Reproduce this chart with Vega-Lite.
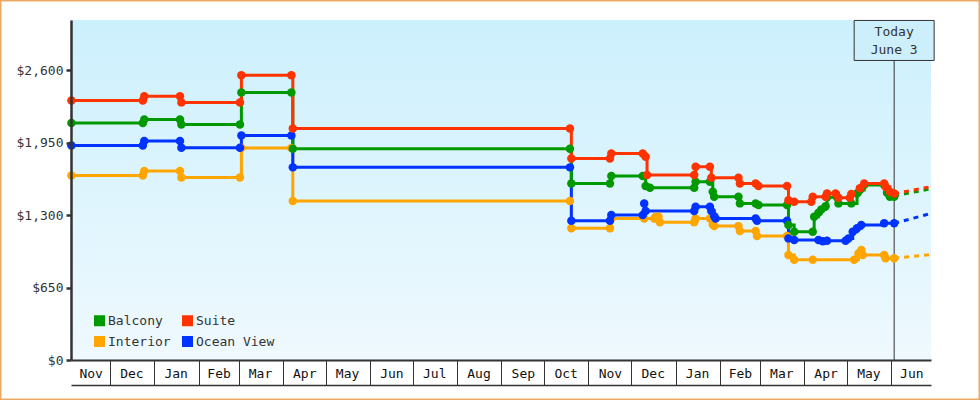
{
  "$schema": "https://vega.github.io/schema/vega-lite/v6.json",
  "width": 980,
  "height": 400,
  "autosize": "none",
  "padding": 0,
  "background": "white",
  "config": {
    "view": {"fill": "white", "stroke": "#eba964", "strokeWidth": 3},
    "font": "DejaVu Sans Mono",
    "axis": {"grid": false, "labelFont": "DejaVu Sans Mono", "labelFontSize": 13, "labelColor": "#333333", "domainColor": "#333333", "tickColor": "#333333"},
    "legend": {"zindex": 2}
  },
  "datasets": {
    "prices": [
      {"s": "Interior", "d": "2021-11-04", "v": 1656},
      {"s": "Interior", "d": "2021-12-24", "v": 1656},
      {"s": "Interior", "d": "2021-12-25", "v": 1695},
      {"s": "Interior", "d": "2022-01-19", "v": 1695},
      {"s": "Interior", "d": "2022-01-20", "v": 1638},
      {"s": "Interior", "d": "2022-03-02", "v": 1638},
      {"s": "Interior", "d": "2022-03-03", "v": 1901},
      {"s": "Interior", "d": "2022-04-07", "v": 1901},
      {"s": "Interior", "d": "2022-04-08", "v": 1426},
      {"s": "Interior", "d": "2022-10-19", "v": 1426},
      {"s": "Interior", "d": "2022-10-20", "v": 1181},
      {"s": "Interior", "d": "2022-11-16", "v": 1181},
      {"s": "Interior", "d": "2022-11-17", "v": 1270},
      {"s": "Interior", "d": "2022-12-10", "v": 1270},
      {"s": "Interior", "d": "2022-12-17", "v": 1270},
      {"s": "Interior", "d": "2022-12-18", "v": 1285},
      {"s": "Interior", "d": "2022-12-20", "v": 1285},
      {"s": "Interior", "d": "2022-12-21", "v": 1235},
      {"s": "Interior", "d": "2023-01-14", "v": 1235},
      {"s": "Interior", "d": "2023-01-15", "v": 1270},
      {"s": "Interior", "d": "2023-01-25", "v": 1270},
      {"s": "Interior", "d": "2023-01-27", "v": 1215},
      {"s": "Interior", "d": "2023-01-28", "v": 1201},
      {"s": "Interior", "d": "2023-02-14", "v": 1201},
      {"s": "Interior", "d": "2023-02-15", "v": 1157},
      {"s": "Interior", "d": "2023-02-26", "v": 1157},
      {"s": "Interior", "d": "2023-02-27", "v": 1112},
      {"s": "Interior", "d": "2023-03-20", "v": 1112},
      {"s": "Interior", "d": "2023-03-21", "v": 941},
      {"s": "Interior", "d": "2023-03-25", "v": 900},
      {"s": "Interior", "d": "2023-04-07", "v": 900},
      {"s": "Interior", "d": "2023-05-06", "v": 900},
      {"s": "Interior", "d": "2023-05-09", "v": 956},
      {"s": "Interior", "d": "2023-05-11", "v": 986},
      {"s": "Interior", "d": "2023-05-12", "v": 941},
      {"s": "Interior", "d": "2023-05-27", "v": 941},
      {"s": "Interior", "d": "2023-05-28", "v": 912},
      {"s": "Interior", "d": "2023-06-03", "v": 912},
      {"s": "Ocean View", "d": "2021-11-04", "v": 1925},
      {"s": "Ocean View", "d": "2021-12-24", "v": 1925},
      {"s": "Ocean View", "d": "2021-12-25", "v": 1964},
      {"s": "Ocean View", "d": "2022-01-19", "v": 1964},
      {"s": "Ocean View", "d": "2022-01-20", "v": 1904},
      {"s": "Ocean View", "d": "2022-03-02", "v": 1904},
      {"s": "Ocean View", "d": "2022-03-03", "v": 2015},
      {"s": "Ocean View", "d": "2022-04-07", "v": 2015},
      {"s": "Ocean View", "d": "2022-04-08", "v": 1728},
      {"s": "Ocean View", "d": "2022-10-19", "v": 1728},
      {"s": "Ocean View", "d": "2022-10-20", "v": 1249},
      {"s": "Ocean View", "d": "2022-11-16", "v": 1249},
      {"s": "Ocean View", "d": "2022-11-17", "v": 1300},
      {"s": "Ocean View", "d": "2022-12-09", "v": 1300},
      {"s": "Ocean View", "d": "2022-12-10", "v": 1405},
      {"s": "Ocean View", "d": "2022-12-11", "v": 1336},
      {"s": "Ocean View", "d": "2023-01-14", "v": 1336},
      {"s": "Ocean View", "d": "2023-01-15", "v": 1375},
      {"s": "Ocean View", "d": "2023-01-25", "v": 1375},
      {"s": "Ocean View", "d": "2023-01-26", "v": 1336},
      {"s": "Ocean View", "d": "2023-01-28", "v": 1290},
      {"s": "Ocean View", "d": "2023-01-29", "v": 1270},
      {"s": "Ocean View", "d": "2023-02-26", "v": 1270},
      {"s": "Ocean View", "d": "2023-02-27", "v": 1249},
      {"s": "Ocean View", "d": "2023-03-20", "v": 1249},
      {"s": "Ocean View", "d": "2023-03-21", "v": 1091},
      {"s": "Ocean View", "d": "2023-03-25", "v": 1076},
      {"s": "Ocean View", "d": "2023-04-11", "v": 1076},
      {"s": "Ocean View", "d": "2023-04-14", "v": 1065},
      {"s": "Ocean View", "d": "2023-04-17", "v": 1070},
      {"s": "Ocean View", "d": "2023-04-30", "v": 1070},
      {"s": "Ocean View", "d": "2023-05-02", "v": 1091},
      {"s": "Ocean View", "d": "2023-05-05", "v": 1150},
      {"s": "Ocean View", "d": "2023-05-08", "v": 1181},
      {"s": "Ocean View", "d": "2023-05-11", "v": 1210},
      {"s": "Ocean View", "d": "2023-05-27", "v": 1226},
      {"s": "Ocean View", "d": "2023-06-03", "v": 1226},
      {"s": "Balcony", "d": "2021-11-04", "v": 2125},
      {"s": "Balcony", "d": "2021-12-24", "v": 2125},
      {"s": "Balcony", "d": "2021-12-25", "v": 2158},
      {"s": "Balcony", "d": "2022-01-19", "v": 2158},
      {"s": "Balcony", "d": "2022-01-20", "v": 2113},
      {"s": "Balcony", "d": "2022-03-02", "v": 2113},
      {"s": "Balcony", "d": "2022-03-03", "v": 2400},
      {"s": "Balcony", "d": "2022-04-07", "v": 2400},
      {"s": "Balcony", "d": "2022-04-08", "v": 1895},
      {"s": "Balcony", "d": "2022-10-19", "v": 1895},
      {"s": "Balcony", "d": "2022-10-20", "v": 1584},
      {"s": "Balcony", "d": "2022-11-16", "v": 1584},
      {"s": "Balcony", "d": "2022-11-17", "v": 1650},
      {"s": "Balcony", "d": "2022-12-09", "v": 1650},
      {"s": "Balcony", "d": "2022-12-11", "v": 1560},
      {"s": "Balcony", "d": "2022-12-14", "v": 1545},
      {"s": "Balcony", "d": "2023-01-14", "v": 1545},
      {"s": "Balcony", "d": "2023-01-15", "v": 1599},
      {"s": "Balcony", "d": "2023-01-25", "v": 1599},
      {"s": "Balcony", "d": "2023-01-27", "v": 1509},
      {"s": "Balcony", "d": "2023-01-28", "v": 1464},
      {"s": "Balcony", "d": "2023-02-14", "v": 1464},
      {"s": "Balcony", "d": "2023-02-15", "v": 1405},
      {"s": "Balcony", "d": "2023-02-26", "v": 1405},
      {"s": "Balcony", "d": "2023-02-28", "v": 1390},
      {"s": "Balcony", "d": "2023-03-20", "v": 1390},
      {"s": "Balcony", "d": "2023-03-21", "v": 1210},
      {"s": "Balcony", "d": "2023-03-25", "v": 1150},
      {"s": "Balcony", "d": "2023-04-07", "v": 1150},
      {"s": "Balcony", "d": "2023-04-08", "v": 1285},
      {"s": "Balcony", "d": "2023-04-11", "v": 1320},
      {"s": "Balcony", "d": "2023-04-13", "v": 1350},
      {"s": "Balcony", "d": "2023-04-16", "v": 1380},
      {"s": "Balcony", "d": "2023-04-17", "v": 1460},
      {"s": "Balcony", "d": "2023-04-24", "v": 1460},
      {"s": "Balcony", "d": "2023-04-25", "v": 1405},
      {"s": "Balcony", "d": "2023-05-04", "v": 1405},
      {"s": "Balcony", "d": "2023-05-08", "v": 1494},
      {"s": "Balcony", "d": "2023-05-10", "v": 1525},
      {"s": "Balcony", "d": "2023-05-13", "v": 1569},
      {"s": "Balcony", "d": "2023-05-27", "v": 1569},
      {"s": "Balcony", "d": "2023-05-29", "v": 1500},
      {"s": "Balcony", "d": "2023-05-31", "v": 1464},
      {"s": "Balcony", "d": "2023-06-03", "v": 1464},
      {"s": "Suite", "d": "2021-11-04", "v": 2328},
      {"s": "Suite", "d": "2021-12-24", "v": 2328},
      {"s": "Suite", "d": "2021-12-25", "v": 2367},
      {"s": "Suite", "d": "2022-01-19", "v": 2367},
      {"s": "Suite", "d": "2022-01-20", "v": 2311},
      {"s": "Suite", "d": "2022-03-02", "v": 2311},
      {"s": "Suite", "d": "2022-03-03", "v": 2555},
      {"s": "Suite", "d": "2022-04-07", "v": 2555},
      {"s": "Suite", "d": "2022-04-08", "v": 2077},
      {"s": "Suite", "d": "2022-10-19", "v": 2077},
      {"s": "Suite", "d": "2022-10-20", "v": 1808},
      {"s": "Suite", "d": "2022-11-16", "v": 1808},
      {"s": "Suite", "d": "2022-11-17", "v": 1853},
      {"s": "Suite", "d": "2022-12-09", "v": 1853},
      {"s": "Suite", "d": "2022-12-11", "v": 1823},
      {"s": "Suite", "d": "2022-12-12", "v": 1659},
      {"s": "Suite", "d": "2023-01-14", "v": 1659},
      {"s": "Suite", "d": "2023-01-15", "v": 1733},
      {"s": "Suite", "d": "2023-01-25", "v": 1733},
      {"s": "Suite", "d": "2023-01-26", "v": 1635},
      {"s": "Suite", "d": "2023-02-14", "v": 1635},
      {"s": "Suite", "d": "2023-02-15", "v": 1584},
      {"s": "Suite", "d": "2023-02-26", "v": 1584},
      {"s": "Suite", "d": "2023-02-28", "v": 1560},
      {"s": "Suite", "d": "2023-03-20", "v": 1560},
      {"s": "Suite", "d": "2023-03-21", "v": 1434},
      {"s": "Suite", "d": "2023-03-25", "v": 1419},
      {"s": "Suite", "d": "2023-04-06", "v": 1419},
      {"s": "Suite", "d": "2023-04-07", "v": 1464},
      {"s": "Suite", "d": "2023-04-16", "v": 1464},
      {"s": "Suite", "d": "2023-04-17", "v": 1494},
      {"s": "Suite", "d": "2023-04-23", "v": 1494},
      {"s": "Suite", "d": "2023-04-25", "v": 1455},
      {"s": "Suite", "d": "2023-05-03", "v": 1455},
      {"s": "Suite", "d": "2023-05-04", "v": 1490},
      {"s": "Suite", "d": "2023-05-10", "v": 1540},
      {"s": "Suite", "d": "2023-05-13", "v": 1584},
      {"s": "Suite", "d": "2023-05-27", "v": 1584},
      {"s": "Suite", "d": "2023-05-28", "v": 1554},
      {"s": "Suite", "d": "2023-05-31", "v": 1509},
      {"s": "Suite", "d": "2023-06-03", "v": 1494}
    ],
    "proj": [
      {"s": "Interior", "d": "2023-06-03", "v": 912},
      {"s": "Interior", "d": "2023-06-28", "v": 945},
      {"s": "Ocean View", "d": "2023-06-03", "v": 1226},
      {"s": "Ocean View", "d": "2023-06-28", "v": 1312},
      {"s": "Balcony", "d": "2023-06-03", "v": 1470},
      {"s": "Balcony", "d": "2023-06-28", "v": 1535},
      {"s": "Suite", "d": "2023-06-03", "v": 1492},
      {"s": "Suite", "d": "2023-06-28", "v": 1553}
    ]
  },
  "layer": [
    {
      "data": {"values": [{"a": "2021-11-03T17:00:00Z", "b": "2023-06-28T19:00:00Z", "lo": 0, "hi": 3050}]},
      "mark": {"type": "rect", "fill": {"gradient": "linear", "x1": 0, "y1": 0, "x2": 0, "y2": 1, "stops": [{"offset": 0, "color": "#ccf0fd"}, {"offset": 1, "color": "#eff9fe"}]}},
      "encoding": {
        "x": {"field": "a", "type": "temporal",
          "scale": {"type": "utc", "nice": false, "domain": [{"year": 2021, "month": 11, "date": 3, "hours": 17, "utc": true}, {"year": 2023, "month": 6, "date": 28, "hours": 19, "utc": true}], "range": [71, 931]},
          "axis": {"orient": "bottom", "offset": -40, "title": null, "format": "%b", "ticks": false, "tickSize": 0, "labelPadding": 13, "labelBaseline": "middle", "labelFlush": false, "labelOverlap": false, "labelColor": "#111111", "domain": true, "domainWidth": 2, "domainColor": "#333333", "zindex": 1,
            "values": [
              {"year": 2021, "month": 11, "date": 17, "hours": 12, "utc": true},
              {"year": 2021, "month": 12, "date": 16, "utc": true},
              {"year": 2022, "month": 1, "date": 16, "utc": true},
              {"year": 2022, "month": 2, "date": 15, "utc": true},
              {"year": 2022, "month": 3, "date": 16, "utc": true},
              {"year": 2022, "month": 4, "date": 16, "utc": true},
              {"year": 2022, "month": 5, "date": 16, "utc": true},
              {"year": 2022, "month": 6, "date": 16, "utc": true},
              {"year": 2022, "month": 7, "date": 16, "utc": true},
              {"year": 2022, "month": 8, "date": 16, "utc": true},
              {"year": 2022, "month": 9, "date": 16, "utc": true},
              {"year": 2022, "month": 10, "date": 16, "utc": true},
              {"year": 2022, "month": 11, "date": 16, "utc": true},
              {"year": 2022, "month": 12, "date": 16, "utc": true},
              {"year": 2023, "month": 1, "date": 16, "utc": true},
              {"year": 2023, "month": 2, "date": 15, "utc": true},
              {"year": 2023, "month": 3, "date": 16, "utc": true},
              {"year": 2023, "month": 4, "date": 16, "utc": true},
              {"year": 2023, "month": 5, "date": 16, "utc": true},
              {"year": 2023, "month": 6, "date": 15, "utc": true}
            ]}},
        "x2": {"field": "b"},
        "y": {"field": "hi", "type": "quantitative", "scale": {"domain": [0, 3050], "range": [360, 20], "nice": false, "zero": false},
          "axis": {"orient": "left", "offset": -71, "title": null, "values": [0, 650, 1300, 1950, 2600], "format": "$,d", "tickSize": 5, "tickWidth": 2.5, "domainWidth": 2.5, "labelPadding": 3, "zindex": 1}},
        "y2": {"field": "lo"}
      }
    },
    {
      "data": {"values": [{"d": "2023-06-03", "top": 2687, "bot": 0}]},
      "mark": {"type": "rule", "color": "#333333", "strokeWidth": 1},
      "encoding": {
        "x": {"field": "d", "type": "temporal", "scale": {"type": "utc", "nice": false, "domain": [{"year": 2021, "month": 11, "date": 3, "hours": 17, "utc": true}, {"year": 2023, "month": 6, "date": 28, "hours": 19, "utc": true}], "range": [71, 931]}, "axis": null},
        "y": {"field": "top", "type": "quantitative", "scale": {"domain": [0, 3050], "range": [360, 20], "nice": false, "zero": false}, "axis": null},
        "y2": {"field": "bot"}
      }
    },
    {
      "data": {"name": "prices"},
      "mark": {"type": "line", "interpolate": "step-after", "strokeWidth": 3},
      "encoding": {
        "x": {"field": "d", "type": "temporal",
          "scale": {"type": "utc", "nice": false, "domain": [{"year": 2021, "month": 11, "date": 3, "hours": 17, "utc": true}, {"year": 2023, "month": 6, "date": 28, "hours": 19, "utc": true}], "range": [71, 931]},
          "axis": {"orient": "bottom", "offset": -40, "title": null, "labels": false, "domain": false, "ticks": true, "tickSize": 25, "tickWidth": 1, "tickColor": "#333333", "zindex": 1,
            "values": [
              {"year": 2021, "month": 12, "date": 1, "utc": true},
              {"year": 2022, "month": 1, "date": 1, "utc": true},
              {"year": 2022, "month": 2, "date": 1, "utc": true},
              {"year": 2022, "month": 3, "date": 1, "utc": true},
              {"year": 2022, "month": 4, "date": 1, "utc": true},
              {"year": 2022, "month": 5, "date": 1, "utc": true},
              {"year": 2022, "month": 6, "date": 1, "utc": true},
              {"year": 2022, "month": 7, "date": 1, "utc": true},
              {"year": 2022, "month": 8, "date": 1, "utc": true},
              {"year": 2022, "month": 9, "date": 1, "utc": true},
              {"year": 2022, "month": 10, "date": 1, "utc": true},
              {"year": 2022, "month": 11, "date": 1, "utc": true},
              {"year": 2022, "month": 12, "date": 1, "utc": true},
              {"year": 2023, "month": 1, "date": 1, "utc": true},
              {"year": 2023, "month": 2, "date": 1, "utc": true},
              {"year": 2023, "month": 3, "date": 1, "utc": true},
              {"year": 2023, "month": 4, "date": 1, "utc": true},
              {"year": 2023, "month": 5, "date": 1, "utc": true},
              {"year": 2023, "month": 6, "date": 1, "utc": true}
            ]}},
        "y": {"field": "v", "type": "quantitative", "scale": {"domain": [0, 3050], "range": [360, 20], "nice": false, "zero": false}, "axis": null},
        "stroke": {"field": "s", "type": "nominal", "scale": {"domain": ["Balcony", "Interior", "Suite", "Ocean View"], "range": ["#009900", "#ffa500", "#ff3300", "#0033ff"]}, "legend": null}
      }
    },
    {
      "data": {"name": "proj"},
      "mark": {"type": "line", "strokeWidth": 3, "strokeDash": [5, 5]},
      "encoding": {
        "x": {"field": "d", "type": "temporal",
          "scale": {"type": "utc", "nice": false, "domain": [{"year": 2021, "month": 11, "date": 3, "hours": 17, "utc": true}, {"year": 2023, "month": 6, "date": 28, "hours": 19, "utc": true}], "range": [71, 931]},
          "axis": {"orient": "bottom", "offset": -15, "title": null, "labels": false, "ticks": false, "domain": true, "domainWidth": 1.5, "domainColor": "#333333", "zindex": 1}},
        "y": {"field": "v", "type": "quantitative", "scale": {"domain": [0, 3050], "range": [360, 20], "nice": false, "zero": false}, "axis": null},
        "stroke": {"field": "s", "type": "nominal", "scale": {"domain": ["Balcony", "Interior", "Suite", "Ocean View"], "range": ["#009900", "#ffa500", "#ff3300", "#0033ff"]}, "legend": null}
      }
    },
    {
      "data": {"name": "prices"},
      "mark": {"type": "circle", "size": 72, "opacity": 1},
      "encoding": {
        "x": {"field": "d", "type": "temporal", "scale": {"type": "utc", "nice": false, "domain": [{"year": 2021, "month": 11, "date": 3, "hours": 17, "utc": true}, {"year": 2023, "month": 6, "date": 28, "hours": 19, "utc": true}], "range": [71, 931]}, "axis": null},
        "y": {"field": "v", "type": "quantitative", "scale": {"domain": [0, 3050], "range": [360, 20], "nice": false, "zero": false}, "axis": null},
        "color": {"field": "s", "type": "nominal", "scale": {"domain": ["Balcony", "Interior", "Suite", "Ocean View"], "range": ["#009900", "#ffa500", "#ff3300", "#0033ff"]},
          "legend": {"orient": "none", "legendX": 93, "legendY": 314, "columns": 2, "title": null, "symbolType": "square", "symbolSize": 121, "symbolStrokeWidth": 0, "symbolOpacity": 1, "labelFont": "DejaVu Sans Mono", "labelFontSize": 13, "labelColor": "#333333", "labelOffset": 2, "rowPadding": 7, "columnPadding": 10, "zindex": 2}}
      }
    },
    {
      "data": {"values": [{"a": "2023-05-06", "b": "2023-07-01", "top": 3046, "bot": 2687}]},
      "mark": {"type": "rect", "fill": "#cdeffc", "stroke": "#333333", "strokeWidth": 1},
      "encoding": {
        "x": {"field": "a", "type": "temporal", "scale": {"type": "utc", "nice": false, "domain": [{"year": 2021, "month": 11, "date": 3, "hours": 17, "utc": true}, {"year": 2023, "month": 6, "date": 28, "hours": 19, "utc": true}], "range": [71, 931]}, "axis": null},
        "x2": {"field": "b"},
        "y": {"field": "top", "type": "quantitative", "scale": {"domain": [0, 3050], "range": [360, 20], "nice": false, "zero": false}, "axis": null},
        "y2": {"field": "bot"}
      }
    },
    {
      "data": {"values": [{"d": "2023-06-03", "y": 2941, "label": "Today\nJune 3"}]},
      "mark": {"type": "text", "lineBreak": "\n", "lineHeight": 18, "font": "DejaVu Sans Mono", "fontSize": 13, "color": "#333333", "align": "center", "baseline": "middle"},
      "encoding": {
        "x": {"field": "d", "type": "temporal", "scale": {"type": "utc", "nice": false, "domain": [{"year": 2021, "month": 11, "date": 3, "hours": 17, "utc": true}, {"year": 2023, "month": 6, "date": 28, "hours": 19, "utc": true}], "range": [71, 931]}, "axis": null},
        "y": {"field": "y", "type": "quantitative", "scale": {"domain": [0, 3050], "range": [360, 20], "nice": false, "zero": false}, "axis": null},
        "text": {"field": "label"}
      }
    }
  ],
  "resolve": {"axis": {"x": "independent", "y": "independent"}, "legend": {"color": "independent"}}
}
